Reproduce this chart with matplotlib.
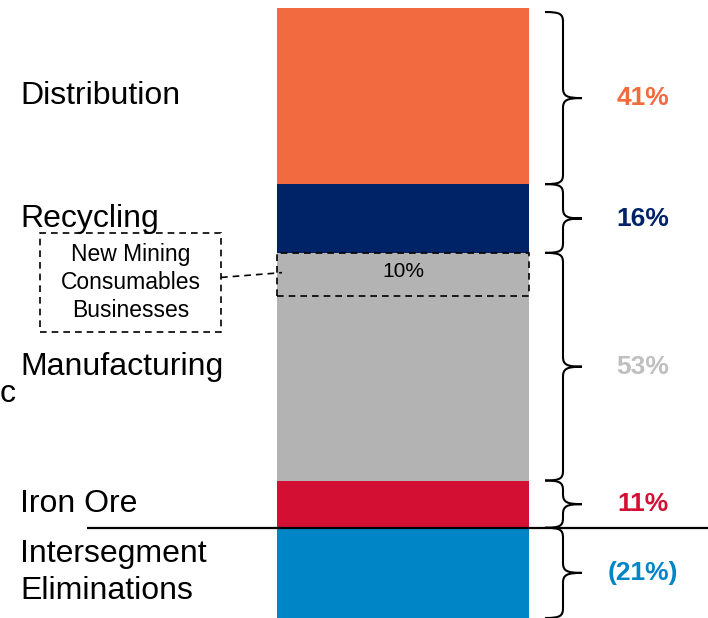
import matplotlib
matplotlib.use("Agg")
import matplotlib.pyplot as plt
from matplotlib.patches import Rectangle, PathPatch
from matplotlib.path import Path

plt.rcParams['font.family'] = ['Liberation Sans', 'DejaVu Sans']

# Segment contributions (% of total), top of the stack first
segments = ["Distribution", "Recycling", "Manufacturing", "Iron Ore",
            "Intersegment\nEliminations"]
shares = [41, 16, 53, 11, -21]
value_labels = ["41%", "16%", "53%", "11%", "(21%)"]
bar_colors = ["#F26A3F", "#002266", "#B3B3B3", "#D31034", "#0085C7"]
text_colors = ["#F26A3F", "#002266", "#BFBFBF", "#D31034", "#0085C7"]

# Slice of the Manufacturing segment called out separately
sub_label = "New Mining\nConsumables\nBusinesses"
sub_share = 10
sub_value_label = "10%"
sub_parent = "Manufacturing"

W, H = 708, 618
fig = plt.figure(figsize=(W / 100, H / 100), dpi=100)
ax = fig.add_axes([0, 0, 1, 1])
ax.axis("off")
ax.set_xlim(0, W)

# Stack positives upward from zero (bottom entry first), negatives downward
bottoms = [0.0] * len(shares)
level = 0.0
for i in reversed(range(len(shares))):
    if shares[i] > 0:
        bottoms[i] = level
        level += shares[i]
top_total = level
level = 0.0
for i, v in enumerate(shares):
    if v < 0:
        bottoms[i] = level
        level += v
bottom_total = level

# vertical scale: the stack fills pixel rows 8..617
top_px, bot_px = 8, 617
scale = (bot_px - top_px) / (top_total - bottom_total)
ax.set_ylim(bottom_total - (H - 1 - bot_px) / scale, top_total + top_px / scale)


def py(p):
    """pixel row -> data y"""
    return ax.get_ylim()[1] - p / scale


bar_x, bar_w = 403, 252
ax.bar([bar_x] * len(shares), shares, bottom=bottoms, width=bar_w,
       color=bar_colors, linewidth=0, zorder=2)

# zero line
ax.plot([87, W], [0, 0], color="black", lw=1.6, zorder=4, solid_capstyle="butt")


def brace(y_hi, y_lo, x0=545, xm=563, xt=582, r_px=10):
    r = r_px / scale
    mid = (y_hi + y_lo) / 2
    verts = [
        (x0, y_hi),
        (x0 + 0.85 * (xm - x0), y_hi), (xm, y_hi - 0.2 * r), (xm, y_hi - r),
        (xm, mid + r),
        (xm, mid + 0.2 * r), (xm + 0.2 * (xt - xm), mid), (xt, mid),
        (xm + 0.2 * (xt - xm), mid), (xm, mid - 0.2 * r), (xm, mid - r),
        (xm, y_lo + r),
        (xm, y_lo + 0.2 * r), (x0 + 0.85 * (xm - x0), y_lo), (x0, y_lo),
    ]
    codes = [Path.MOVETO,
             Path.CURVE4, Path.CURVE4, Path.CURVE4,
             Path.LINETO,
             Path.CURVE4, Path.CURVE4, Path.CURVE4,
             Path.CURVE4, Path.CURVE4, Path.CURVE4,
             Path.LINETO,
             Path.CURVE4, Path.CURVE4, Path.CURVE4]
    ax.add_patch(PathPatch(Path(verts, codes), fill=False, ec="black",
                           lw=1.5, zorder=3))
    return mid


for i, (name, v) in enumerate(zip(segments, shares)):
    lo, hi = sorted((bottoms[i], bottoms[i] + v))
    inset = 4 / scale if hi == top_total else 0
    mid = brace(hi - inset, lo)
    ax.text(643, mid, value_labels[i], color=text_colors[i], fontsize=19,
            fontweight="bold", ha="center", va="center", zorder=5)
    ax.text(20, (lo + hi) / 2, name, fontsize=23, ha="left", va="center",
            linespacing=1.3, zorder=5)

# highlighted slice at the top of the Manufacturing segment
p = segments.index(sub_parent)
sub_top = bottoms[p] + shares[p]
sub_bot = sub_top - sub_share
ax.add_patch(Rectangle((bar_x - bar_w / 2, sub_bot), bar_w, sub_share,
                       fill=False, ec="black", lw=1.2, ls=(0, (4, 3)), zorder=3))
ax.text(bar_x, (sub_top + sub_bot) / 2 + 0.6, sub_value_label, fontsize=15,
        ha="center", va="center", zorder=5)

# callout box
bx0, bx1, by0, by1 = 40, 221, py(331), py(233)
ax.add_patch(Rectangle((bx0, by0), bx1 - bx0, by1 - by0, fill=False,
                       ec="black", lw=1.2, ls=(0, (4, 3)), zorder=3))
ax.text((bx0 + bx1) / 2, (by0 + by1) / 2, sub_label, fontsize=16.5,
        ha="center", va="center", linespacing=1.3, zorder=5)
ax.plot([bx1, bar_x - bar_w / 2 + 5], [py(277), (sub_top + sub_bot) / 2 + 0.4],
        color="black", lw=1.2, ls=(0, (4, 3)), zorder=4)

# stray character at the left edge
ax.text(0, py(393), "c", fontsize=23, ha="left", va="center")

fig.savefig("out.png", dpi=100)
